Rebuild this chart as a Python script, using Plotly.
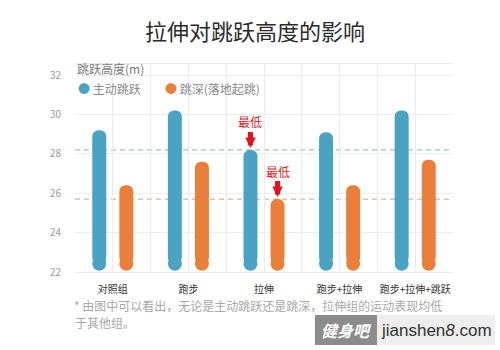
import plotly.graph_objects as go

# Data
categories = ["对照组", "跑步", "拉伸", "跑步+拉伸", "跑步+拉伸+跳跃"]
active_jump = [29.2, 30.2, 28.2, 29.1, 30.2]      # 主动跳跃
depth_jump = [26.4, 27.6, 25.7, 26.4, 27.7]       # 跳深(落地起跳)
y_ticks = [22, 24, 26, 28, 30, 32]

BLUE = "#4aa3c3"
ORANGE = "#e97f3a"
FONT = "Noto Sans CJK SC"

W, H = 500, 350
L, R, T, B = 75, 47, 64, 78
plot_h = H - T - B
plot_w = W - L - R


def py(px):
    """pixel row -> paper y"""
    return (H - B - px) / plot_h


def px_x(px):
    """pixel column -> paper x"""
    return (px - L) / plot_w


offset = 0.179
bar_w = 0.185
base = 22.42           # bars start above the round bottom cap
x_blue = [i - offset for i in range(len(categories))]
x_orange = [i + offset for i in range(len(categories))]

fig = go.Figure()
for xs, vals, color, name in [(x_blue, active_jump, BLUE, "主动跳跃"),
                              (x_orange, depth_jump, ORANGE, "跳深(落地起跳)")]:
    fig.add_trace(go.Bar(
        x=xs, y=[v - base for v in vals], base=base, width=bar_w,
        marker=dict(color=color, cornerradius=7, line=dict(width=0)),
        name=name, showlegend=False,
    ))
    # rounded bottom caps
    fig.add_trace(go.Scatter(
        x=xs, y=[base] * len(xs), mode="markers",
        marker=dict(color=color, size=14, line=dict(width=0)),
        showlegend=False, hoverinfo="skip",
    ))

# reference lines at the lowest value of each series
low_blue = min(active_jump)
low_orange = min(depth_jump)
for yv, c in [(low_blue, "#93c3d0"), (low_orange, "#d9b591")]:
    fig.add_shape(type="line", xref="x domain", yref="y", x0=0, x1=1,
                  y0=yv, y1=yv, line=dict(color=c, width=1.2, dash="5px,4px"),
                  layer="below")

# "最低" markers
for xv, yv in [(x_blue[active_jump.index(low_blue)], low_blue),
               (x_orange[depth_jump.index(low_orange)], low_orange)]:
    fig.add_annotation(x=xv, y=yv, text="最低", showarrow=True,
                       ax=0, ay=-28, standoff=2, arrowhead=2, arrowsize=0.42,
                       arrowwidth=5, arrowcolor="#e3141b",
                       xanchor="center", yanchor="middle",
                       font=dict(family=FONT, size=12, color="#e3141b"))


def text_at(x_px, y_px, text, size, color, anchor="left", family=FONT):
    fig.add_annotation(xref="paper", yref="paper", x=px_x(x_px), y=py(y_px),
                       xanchor=anchor, yanchor="middle", showarrow=False,
                       text=text, font=dict(family=family, size=size, color=color))


# axis title and legend
text_at(75, 68, "跳跃高度(m)", 12, "#7a7a7a")
text_at(76, 88, f"<span style='color:{BLUE}'>●</span> 主动跳跃", 12, "#8a8a8a")
text_at(163, 88, f"<span style='color:{ORANGE}'>●</span> 跳深(落地起跳)", 12, "#8a8a8a")

# footnote
text_at(72, 305, "* 由图中可以看出，无论是主动跳跃还是跳深，拉伸组的运动表现均低", 12, "#a8a8a8")
text_at(73, 322, "于其他组。", 12, "#a8a8a8")

# site badge
fig.add_shape(type="rect", xref="paper", yref="paper", x0=px_x(315), x1=px_x(377),
              y0=py(345), y1=py(315), fillcolor="#8c8c8c", line=dict(width=0))
fig.add_shape(type="rect", xref="paper", yref="paper", x0=px_x(377), x1=px_x(495),
              y0=py(345), y1=py(315), fillcolor="#eeeeee", line=dict(width=0))
text_at(346, 330, "<b><i>健身吧</i></b>", 16, "#ffffff", anchor="center")
text_at(436, 330, "jianshen<i>8</i>.com", 17, "#333333", anchor="center",
        family="Liberation Sans")

fig.update_layout(
    width=W, height=H, autosize=False,
    margin=dict(l=L, r=R, t=T, b=B),
    paper_bgcolor="white", plot_bgcolor="white",
    barmode="overlay",
    title=dict(text="拉伸对跳跃高度的影响", x=0.51, xanchor="center",
               xref="container", yref="container", y=1 - 32 / H, yanchor="middle",
               font=dict(family=FONT, size=22, color="#2b2b2b")),
    font=dict(family=FONT),
)
fig.update_xaxes(
    range=[-0.5, len(categories) - 0.5],
    tickvals=list(range(len(categories))), ticktext=categories,
    tickfont=dict(family=FONT, size=10, color="#333333"),
    showgrid=True, gridcolor="#ececec", gridwidth=1,
    minor=dict(tickvals=[i - 0.5 for i in range(len(categories) + 1)],
               showgrid=True, gridcolor="#ececec", gridwidth=1),
    showline=True, mirror=True, linecolor="#ececec", linewidth=1,
    zeroline=False, ticks="", ticklabelstandoff=8,
)
fig.update_yaxes(
    range=[22, 32.56], tickvals=y_ticks,
    tickfont=dict(family=FONT, size=10, color="#9a9a9a"),
    showgrid=True, gridcolor="#ececec", gridwidth=1,
    zeroline=False, ticks="", ticklabelstandoff=13, showline=False,
)

fig.write_html("out.html")
